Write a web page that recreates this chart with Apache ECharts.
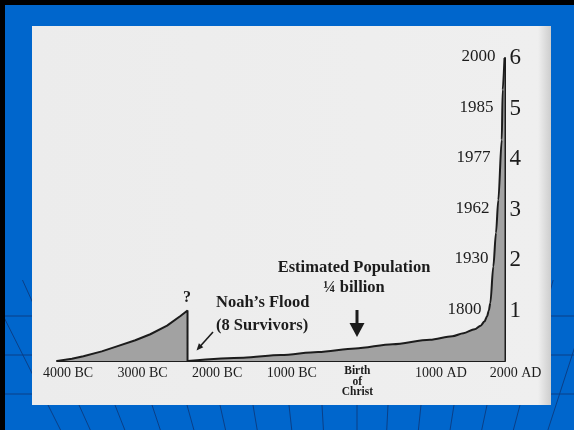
<!DOCTYPE html>
<html>
<head>
<meta charset="utf-8">
<script src="https://cdn.jsdelivr.net/npm/echarts@6/dist/echarts.min.js"></script>
<style>
html,body{margin:0;padding:0;background:#0066cc;}
#c{width:574px;height:430px;}
</style>
</head>
<body>
<div id="c"></div>
<script>
// ---- data ----
const xTickLabels = ['4000 BC', '3000 BC', '2000 BC', '1000 BC', 'Birth\nof\nChrist', '1000 AD', '2000 AD'];
const popTickLabels = ['1', '2', '3', '4', '5', '6'];
const yearTickLabels = ['1800', '1930', '1962', '1977', '1985', '2000'];

// population (billions) before the flood
const preFloodYears = [-4000, -3800, -3646, -3400, -3197, -2950, -2749, -2524, -2345, -2250, -2250];
const preFloodPop   = [0, 0.045, 0.095, 0.19, 0.29, 0.41, 0.53, 0.70, 0.89, 1.0, 0];

// population (billions) after the flood
const postFloodYears = [-2250, -1500, -1000, -500, 0, 500, 1000, 1300, 1450, 1600, 1680, 1730, 1765, 1790, 1810, 1850, 1886, 1917, 1963, 1976, 2000];
const postFloodPop   = [0, 0.065, 0.12, 0.18, 0.25, 0.33, 0.42, 0.49, 0.55, 0.63, 0.70, 0.78, 0.88, 1.0, 1.15, 1.87, 2.54, 3.19, 4.38, 5.37, 6.0];

// ---- chart ----
const serif = '"Liberation Serif", "DejaVu Serif", serif';
const ink = '#1c1c1c';
const chart = echarts.init(document.getElementById('c'), null, {renderer: 'canvas'});

const decor = [];
decor.push({type: 'rect', z: -5, shape: {x: 0, y: 0, width: 574, height: 5}, style: {fill: '#000'}});
decor.push({type: 'rect', z: -5, shape: {x: 0, y: 0, width: 5, height: 430}, style: {fill: '#000'}});
[316, 355, 394].forEach(function (yy) {
  decor.push({type: 'line', z: -8, shape: {x1: 5, y1: yy, x2: 574, y2: yy}, style: {stroke: '#0b3f86', lineWidth: 1}});
});
[48, 79, 115, 152, 187, 220, 253, 289, 322, 357, 388, 421, 454, 487, 520, 556].forEach(function (xx) {
  const cx = 357, cy = 1020;
  const k = (xx - cx) / (405 - cy);
  decor.push({type: 'line', z: -8, shape: {x1: xx + k * (280 - 405), y1: 280, x2: xx + k * (430 - 405), y2: 430}, style: {stroke: '#0b3f86', lineWidth: 1}});
});
decor.push({type: 'rect', z: -4, shape: {x: 32, y: 26, width: 519, height: 379},
  style: {fill: new echarts.graphic.LinearGradient(0, 0, 1, 0, [
    {offset: 0, color: '#ececec'}, {offset: 0.975, color: '#efefef'}, {offset: 1, color: '#cdcdcd'}])}});

const ann = [
  {type: 'text', z: 20, x: 187, y: 298, style: {text: '?', font: 'bold 16px ' + serif, fill: ink, textAlign: 'center', textVerticalAlign: 'middle'}},
  {type: 'text', z: 20, x: 216, y: 303, style: {text: 'Noah\u2019s Flood', font: 'bold 16.5px ' + serif, fill: ink, textAlign: 'left', textVerticalAlign: 'middle'}},
  {type: 'text', z: 20, x: 216, y: 326, style: {text: '(8 Survivors)', font: 'bold 16.5px ' + serif, fill: ink, textAlign: 'left', textVerticalAlign: 'middle'}},
  {type: 'text', z: 20, x: 354, y: 268, style: {text: 'Estimated Population', font: 'bold 16.5px ' + serif, fill: ink, textAlign: 'center', textVerticalAlign: 'middle'}},
  {type: 'text', z: 20, x: 354, y: 288, style: {text: '\u00bc billion', font: 'bold 16.5px ' + serif, fill: ink, textAlign: 'center', textVerticalAlign: 'middle'}},
  {type: 'rect', z: 20, shape: {x: 355.5, y: 310, width: 3, height: 14}, style: {fill: ink}},
  {type: 'polygon', z: 20, shape: {points: [[349.5, 323], [364.5, 323], [357, 337]]}, style: {fill: ink}},
  {type: 'line', z: 20, shape: {x1: 213, y1: 332, x2: 200, y2: 346.5}, style: {stroke: ink, lineWidth: 1.6}},
  {type: 'polygon', z: 20, shape: {points: [[196.5, 350.5], [203.3, 347.2], [198.9, 343.3]]}, style: {fill: ink}}
];

const yearRich = {};
const yearPad = [14, 7, 6, 5, 2, 0];
yearPad.forEach(function (p, i) {
  yearRich['p' + (i + 1)] = {fontFamily: serif, fontSize: 17, color: ink, padding: [0, p, 2, 0]};
});

const option = {
  backgroundColor: '#0066cc',
  animation: false,
  graphic: {elements: decor.concat(ann)},
  grid: {left: 57, right: 69.5, top: 58, bottom: 69},
  xAxis: {
    type: 'value', min: -4000, max: 2000, interval: 1000,
    axisLine: {show: true, onZero: false, lineStyle: {color: ink, width: 2}},
    axisTick: {show: false}, splitLine: {show: false},
    axisLabel: {
      margin: 5, showMinLabel: true, showMaxLabel: true, hideOverlap: false,
      formatter: function (v) {
        const i = Math.round((v + 4000) / 1000);
        const t = xTickLabels[i];
        if (t.indexOf('\n') >= 0) {
          return t.split('\n').map(function (s) { return '{b|' + s + '}'; }).join('\n');
        }
        return '{a|' + t + '}';
      },
      rich: {
        a: {fontFamily: serif, fontSize: 14, color: ink, padding: [0, 0, 0, 22], lineHeight: 14},
        b: {fontFamily: serif, fontSize: 11.5, fontWeight: 'bold', color: ink, lineHeight: 10.5, padding: [0, 0, 0, 4], align: 'center'}
      }
    }
  },
  yAxis: [
    {
      type: 'value', position: 'right', min: 0, max: 6, interval: 1,
      axisLine: {show: true, onZero: false, lineStyle: {color: ink, width: 2}},
      axisTick: {show: false}, splitLine: {show: false},
      axisLabel: {margin: 5, fontFamily: serif, fontSize: 23, color: ink,
        formatter: function (v) { return v === 0 ? '' : popTickLabels[v - 1]; }}
    },
    {
      type: 'value', position: 'right', min: 0, max: 6, interval: 1,
      axisLine: {show: false, onZero: false}, axisTick: {show: false}, splitLine: {show: false},
      axisLabel: {inside: true, margin: 9,
        formatter: function (v) { return v === 0 ? '' : '{p' + v + '|' + yearTickLabels[v - 1] + '}'; },
        rich: yearRich}
    }
  ],
  series: [
    {
      type: 'line', symbol: 'none', z: 3,
      data: preFloodYears.map(function (x, i) { return [x, preFloodPop[i]]; }),
      lineStyle: {color: ink, width: 2},
      areaStyle: {color: '#a2a2a2', opacity: 1}
    },
    {
      type: 'line', symbol: 'none', z: 3, smooth: 0.3, smoothMonotone: 'x',
      data: postFloodYears.map(function (x, i) { return [x, postFloodPop[i]]; }),
      lineStyle: {color: ink, width: 2},
      areaStyle: {color: '#a2a2a2', opacity: 1}
    }
  ]
};
chart.setOption(option);
</script>
</body>
</html>
